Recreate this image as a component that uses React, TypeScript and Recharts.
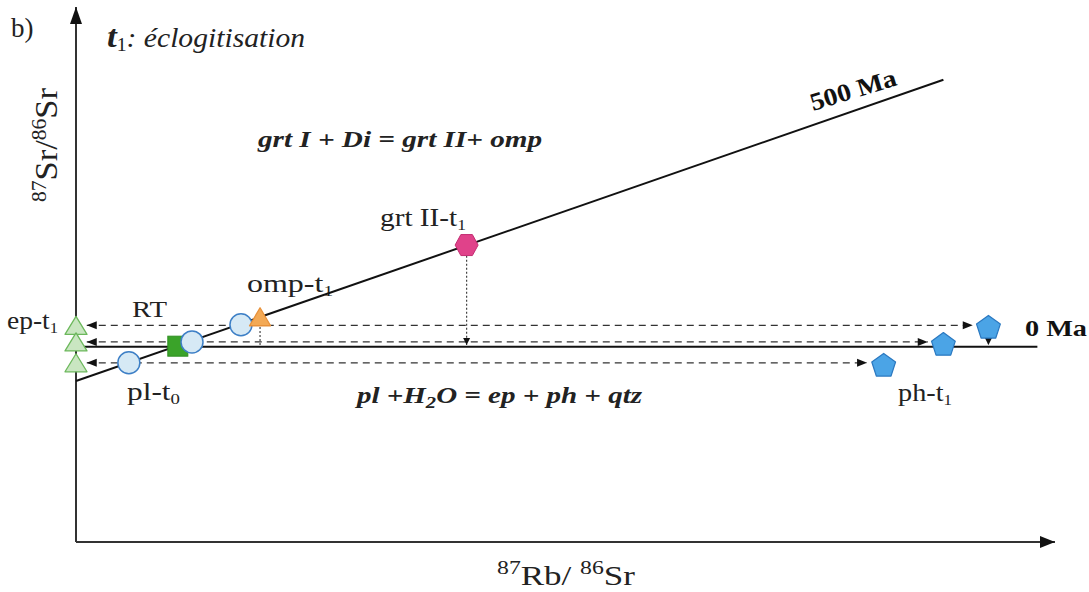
import React from "react";
import { ScatterChart, Scatter, XAxis, YAxis } from "recharts";

const FONT = "Liberation Serif, Times New Roman, serif";

// Mineral points (arbitrary units: 87Rb/86Sr on x, 87Sr/86Sr on y)
const epPoints = [{ x: 0, y: 40.5 }, { x: 0, y: 37.4 }, { x: 0, y: 33.5 }];
const rtPoint = [{ x: 10.4, y: 36.6 }];
const plPoints = [{ x: 5.4, y: 33.5 }, { x: 11.85, y: 37.4 }, { x: 16.85, y: 40.6 }];
const ompPoint = [{ x: 18.8, y: 42.1 }];
const grtPoint = [{ x: 39.9, y: 55.5 }];
const phPoints = [{ x: 93.2, y: 40.2 }, { x: 88.6, y: 37.0 }, { x: 82.5, y: 33.1 }];

// Isochrons
const isochron0 = [{ x: 0, y: 36.5 }, { x: 98.2, y: 36.5 }];
const isochron500 = [{ x: 0, y: 30.1 }, { x: 88.6, y: 86.4 }];

// Exchange arrows (dashed, double headed)
const transfers = [
  [{ x: 1.1, y: 40.5, dir: "left" }, { x: 91.6, y: 40.5, dir: "right" }],
  [{ x: 1.1, y: 37.4, dir: "left" }, { x: 87.0, y: 37.4, dir: "right" }],
  [{ x: 1.1, y: 33.5, dir: "left" }, { x: 80.8, y: 33.5, dir: "right" }],
];

// Projections (dotted)
const projections = [
  [{ x: 39.9, y: 53.5 }, { x: 39.9, y: 36.8, dir: "down" }],
  [{ x: 18.8, y: 40.2 }, { x: 18.8, y: 36.6 }],
  [{ x: 93.2, y: 38.1 }, { x: 93.2, y: 36.8, dir: "down" }],
];

// Axes
const axisX = [{ x: 0, y: 0 }, { x: 100, y: 0, dir: "right" }];
const axisY = [{ x: 0, y: 0 }, { x: 0, y: 100, dir: "up" }];

const arrowHead = (len: number, hw: number, color: string) => (props: any) => {
  const { cx, cy } = props;
  const dir = props.dir ?? props.payload?.dir;
  if (!dir || cx == null || cy == null) return <g />;
  let pts = "";
  if (dir === "left") pts = `${cx},${cy} ${cx + len},${cy - hw} ${cx + len},${cy + hw}`;
  if (dir === "right") pts = `${cx},${cy} ${cx - len},${cy - hw} ${cx - len},${cy + hw}`;
  if (dir === "up") pts = `${cx},${cy} ${cx - hw},${cy + len} ${cx + hw},${cy + len}`;
  if (dir === "down") pts = `${cx},${cy} ${cx - hw},${cy - len} ${cx + hw},${cy - len}`;
  return <polygon points={pts} fill={color} />;
};

const noShape = () => <g />;

const triangleShape = (w: number, h: number, fill: string, stroke: string) => (props: any) => {
  const { cx, cy } = props;
  return (
    <polygon
      points={`${cx},${cy - h / 2} ${cx + w / 2},${cy + h / 2} ${cx - w / 2},${cy + h / 2}`}
      fill={fill}
      stroke={stroke}
      strokeWidth={1.3}
      strokeLinejoin="round"
    />
  );
};

const circleShape = (props: any) => (
  <circle cx={props.cx} cy={props.cy} r={11} fill="#d6e9f5" stroke="#3d7fc6" strokeWidth={1.5} />
);

const squareShape = (props: any) => (
  <rect x={props.cx - 10} y={props.cy - 10} width={20} height={20} fill="#3aa329" stroke="#2f8f22" strokeWidth={1} />
);

const hexShape = (props: any) => {
  const { cx, cy } = props;
  const w = 11.5, h = 10.5;
  const pts = `${cx - w},${cy} ${cx - w / 2},${cy - h} ${cx + w / 2},${cy - h} ${cx + w},${cy} ${cx + w / 2},${cy + h} ${cx - w / 2},${cy + h}`;
  return <polygon points={pts} fill="#e0428a" stroke="#c42c72" strokeWidth={1} />;
};

const pentShape = (props: any) => {
  const { cx, cy } = props;
  const r = 12.5;
  const pts = [0, 1, 2, 3, 4]
    .map((i) => {
      const a = -Math.PI / 2 + (i * 2 * Math.PI) / 5;
      return `${cx + r * Math.cos(a)},${cy + 1 + r * Math.sin(a)}`;
    })
    .join(" ");
  return <polygon points={pts} fill="#4ba4e6" stroke="#2a78c0" strokeWidth={1.2} strokeLinejoin="round" />;
};

const T: React.CSSProperties = { fontFamily: FONT };

export default function App() {
  return (
    <div style={{ position: "absolute", left: 0, top: 0, background: "#fff" }}>
      <ScatterChart width={1089} height={592} margin={{ top: 7, right: 34, bottom: 50, left: 76 }}>
        <XAxis type="number" dataKey="x" domain={[0, 100]} hide />
        <YAxis type="number" dataKey="y" domain={[0, 100]} hide />

        {/* axes */}
        <Scatter data={axisX} line={{ stroke: "#333", strokeWidth: 2 }} shape={arrowHead(15, 6, "#111")} isAnimationActive={false} />
        <Scatter data={axisY} line={{ stroke: "#333", strokeWidth: 2 }} shape={arrowHead(17, 6, "#111")} isAnimationActive={false} />

        {/* isochrons */}
        <Scatter data={isochron0} line={{ stroke: "#111", strokeWidth: 2 }} shape={noShape} isAnimationActive={false} />
        <Scatter data={isochron500} line={{ stroke: "#111", strokeWidth: 2 }} shape={noShape} isAnimationActive={false} />

        {/* transfers */}
        {transfers.map((seg, i) => (
          <Scatter
            key={`t${i}`}
            data={seg}
            line={{ stroke: "#333", strokeWidth: 1.3, strokeDasharray: "7 5" }}
            shape={arrowHead(10, 4, "#111")}
            isAnimationActive={false}
          />
        ))}
        {projections.map((seg, i) => (
          <Scatter
            key={`p${i}`}
            data={seg}
            line={{ stroke: "#444", strokeWidth: 1.2, strokeDasharray: "2 2" }}
            shape={arrowHead(7, 3.5, "#111")}
            isAnimationActive={false}
          />
        ))}

        {/* minerals */}
        <Scatter data={epPoints} shape={triangleShape(22, 18, "#c9e6c1", "#6cb85c")} isAnimationActive={false} />
        <Scatter data={rtPoint} shape={squareShape} isAnimationActive={false} />
        <Scatter data={plPoints} shape={circleShape} isAnimationActive={false} />
        <Scatter data={ompPoint} shape={triangleShape(21, 18, "#f3a955", "#e8913a")} isAnimationActive={false} />
        <Scatter data={grtPoint} shape={hexShape} isAnimationActive={false} />
        <Scatter data={phPoints} shape={pentShape} isAnimationActive={false} />

        {/* texts */}
        <text x={11} y={37} style={T} fontSize={27} fill="#222">b)</text>
        <text x={107} y={47} style={T} fill="#222" textLength={198} lengthAdjust="spacingAndGlyphs">
          <tspan fontWeight="bold" fontStyle="italic" fontSize={32}>t</tspan>
          <tspan fontSize={18} dy={4}>1</tspan>
          <tspan fontStyle="italic" fontSize={27} dy={-4}>: éclogitisation</tspan>
        </text>
        <text
          transform="translate(57,145) rotate(-90)"
          textAnchor="middle"
          style={T}
          fill="#222"
          textLength={114}
          lengthAdjust="spacingAndGlyphs"
        >
          <tspan fontSize={20} dy={-11}>87</tspan>
          <tspan fontSize={32} dy={11}>Sr/</tspan>
          <tspan fontSize={20} dy={-11}>86</tspan>
          <tspan fontSize={32} dy={11}>Sr</tspan>
        </text>
        <text x={497} y={585} style={T} fill="#222" textLength={138} lengthAdjust="spacingAndGlyphs">
          <tspan fontSize={19} dy={-11}>87</tspan>
          <tspan fontSize={28} dy={11}>Rb/ </tspan>
          <tspan fontSize={19} dy={-11}>86</tspan>
          <tspan fontSize={28} dy={11}>Sr</tspan>
        </text>

        <text x={258} y={147} style={T} fontSize={24} fontWeight="bold" fontStyle="italic" fill="#222" textLength={284} lengthAdjust="spacingAndGlyphs">
          grt I + Di = grt II+ omp
        </text>
        <text x={357} y={403} style={T} fontWeight="bold" fontStyle="italic" fill="#222" textLength={285} lengthAdjust="spacingAndGlyphs">
          <tspan fontSize={24}>pl +H</tspan>
          <tspan fontSize={17} dy={5}>2</tspan>
          <tspan fontSize={24} dy={-5}>O = ep + ph + qtz</tspan>
        </text>

        <text
          transform="translate(813,111) rotate(-17)"
          style={T}
          fontSize={25}
          fontWeight="bold"
          fill="#111"
          textLength={89}
          lengthAdjust="spacingAndGlyphs"
        >
          500 Ma
        </text>
        <text x={1025} y={336} style={T} fontSize={24} fontWeight="bold" fill="#111" textLength={62} lengthAdjust="spacingAndGlyphs">
          0 Ma
        </text>

        <text x={380} y={226} style={T} fill="#222" textLength={86} lengthAdjust="spacingAndGlyphs">
          <tspan fontSize={25}>grt II-t</tspan>
          <tspan fontSize={15} dy={4}>1</tspan>
        </text>
        <text x={247} y={292} style={T} fill="#222" textLength={86} lengthAdjust="spacingAndGlyphs">
          <tspan fontSize={25}>omp-t</tspan>
          <tspan fontSize={15} dy={4}>1</tspan>
        </text>
        <text x={132} y={317} style={T} fontSize={24} fill="#222" textLength={35} lengthAdjust="spacingAndGlyphs">
          RT
        </text>
        <text x={7} y={329} style={T} fill="#222" textLength={51} lengthAdjust="spacingAndGlyphs">
          <tspan fontSize={25}>ep-t</tspan>
          <tspan fontSize={15} dy={4}>1</tspan>
        </text>
        <text x={127} y={400} style={T} fill="#222" textLength={53} lengthAdjust="spacingAndGlyphs">
          <tspan fontSize={25}>pl-t</tspan>
          <tspan fontSize={15} dy={4}>0</tspan>
        </text>
        <text x={898} y={401} style={T} fill="#222" textLength={54} lengthAdjust="spacingAndGlyphs">
          <tspan fontSize={25}>ph-t</tspan>
          <tspan fontSize={15} dy={4}>1</tspan>
        </text>
      </ScatterChart>
    </div>
  );
}
